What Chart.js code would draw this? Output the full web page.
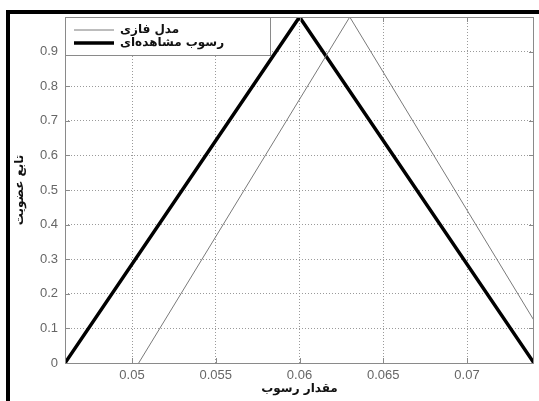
<!DOCTYPE html>
<html>
<head>
<meta charset="utf-8">
<script src="https://cdn.jsdelivr.net/npm/chart.js@4"></script>
<style>
  body { margin: 0; background: #fff; }
  #wrap { position: relative; width: 539px; height: 401px; overflow: hidden; }
  #frame { position: absolute; left: 6px; top: 10px; width: 700px; height: 500px; border-top: 4px solid #000; border-left: 4px solid #000; }
  #myChart { position: absolute; left: 0; top: 0; }
</style>
</head>
<body>
<div id="wrap">
  <div id="frame"></div>
  <canvas id="myChart" width="539" height="401"></canvas>
</div>
<script>
// series values
const fuzzyLabel = 'مدل فازی';
const fuzzyX = [0.0504, 0.063, 0.074];
const fuzzyY = [0, 1, 0.123];

const observedLabel = 'رسوب مشاهده‌ای';
const observedX = [0.046, 0.06, 0.074];
const observedY = [0, 1, 0];

// axis ticks
const xTicks = [0.05, 0.055, 0.06, 0.065, 0.07];
const yTicks = [0, 0.1, 0.2, 0.3, 0.4, 0.5, 0.6, 0.7, 0.8, 0.9, 1];

const toPoints = (xs, ys) => xs.map((x, i) => ({ x: x, y: ys[i] }));

// plot box, inward ticks + legend inside the axes (matlab style)
const boxLegend = {
	id: 'boxLegend',
	afterDraw(chart) {
		const ctx = chart.ctx;
		const a = chart.chartArea;
		const xs = chart.scales.x, ys = chart.scales.y;
		ctx.save();
		ctx.strokeStyle = '#8a8a8a';
		ctx.lineWidth = 1;
		ctx.strokeRect(a.left + 0.5, a.top + 0.5, a.right - a.left - 1, a.bottom - a.top);

		// inward tick marks
		ctx.beginPath();
		xTicks.forEach(v => {
			const px = Math.round(xs.getPixelForValue(v)) + 0.5;
			ctx.moveTo(px, a.bottom); ctx.lineTo(px, a.bottom - 5);
			ctx.moveTo(px, a.top); ctx.lineTo(px, a.top + 5);
		});
		yTicks.forEach(v => {
			const py = Math.round(ys.getPixelForValue(v)) + 0.5;
			ctx.moveTo(a.left, py); ctx.lineTo(a.left + 5, py);
			ctx.moveTo(a.right, py); ctx.lineTo(a.right - 5, py);
		});
		ctx.stroke();

		// legend box
		const w = 205, h = 38;
		ctx.fillStyle = '#fff';
		ctx.fillRect(a.left, a.top, w, h);
		ctx.strokeRect(a.left + 0.5, a.top + 0.5, w, h);

		ctx.font = 'bold 12px "DejaVu Sans", sans-serif';
		ctx.textBaseline = 'middle';
		ctx.textAlign = 'left';
		chart.data.datasets.forEach((ds, i) => {
			const y = a.top + 13 + i * 13;
			ctx.strokeStyle = ds.borderColor;
			ctx.lineWidth = ds.borderWidth;
			ctx.beginPath();
			ctx.moveTo(a.left + 9, y);
			ctx.lineTo(a.left + 49, y);
			ctx.stroke();
			ctx.fillStyle = '#111';
			ctx.fillText(ds.label, a.left + 55, y);
		});
		ctx.restore();
	}
};

const config = {
	type: 'line',
	data: {
		datasets: [{
			label: fuzzyLabel,
			data: toPoints(fuzzyX, fuzzyY),
			borderColor: '#7a7a7a',
			borderWidth: 1,
			pointRadius: 0,
			tension: 0,
			fill: false
		}, {
			label: observedLabel,
			data: toPoints(observedX, observedY),
			borderColor: '#000',
			borderWidth: 3.5,
			pointRadius: 0,
			tension: 0,
			fill: false
		}]
	},
	options: {
		responsive: false,
		animation: false,
		layout: {
			padding: { left: 0, right: 5, top: 17, bottom: 0 }
		},
		scales: {
			x: {
				type: 'linear',
				min: 0.046,
				max: 0.074,
				afterBuildTicks: (scale) => {
					scale.ticks = xTicks.map(v => ({ value: v }));
				},
				afterFit: (scale) => { scale.height = 38; },
				grid: {
					color: '#9a9a9a',
					drawTicks: false
				},
				border: { display: false, dash: [1, 2] },
				ticks: {
					padding: 5,
					color: '#666',
					font: { family: '"Liberation Sans", Arial, sans-serif', size: 13 },
					callback: (v) => String(v)
				},
				title: {
					display: true,
					text: 'مقدار رسوب',
					color: '#111',
					font: { family: '"DejaVu Sans", sans-serif', size: 12, weight: 'bold' },
					padding: { top: 0, bottom: 5 }
				}
			},
			y: {
				min: 0,
				max: 1,
				afterBuildTicks: (scale) => {
					scale.ticks = yTicks.map(v => ({ value: v }));
				},
				afterFit: (scale) => { scale.width = 65; },
				grid: {
					color: '#9a9a9a',
					drawTicks: false
				},
				border: { display: false, dash: [1, 2] },
				ticks: {
					padding: 7,
					color: '#666',
					font: { family: '"Liberation Sans", Arial, sans-serif', size: 13 },
					callback: (v) => (v >= 1 ? '' : String(v))
				},
				title: {
					display: true,
					text: 'تابع عضویت',
					color: '#111',
					font: { family: '"DejaVu Sans", sans-serif', size: 12, weight: 'bold' },
					padding: { top: 13, bottom: 0 }
				}
			}
		},
		plugins: {
			legend: { display: false },
			tooltip: { enabled: false }
		}
	},
	plugins: [boxLegend]
};

document.addEventListener('DOMContentLoaded', () => {
	const ctx = document.getElementById('myChart').getContext('2d');
	new Chart(ctx, config);
});
</script>
</body>
</html>
